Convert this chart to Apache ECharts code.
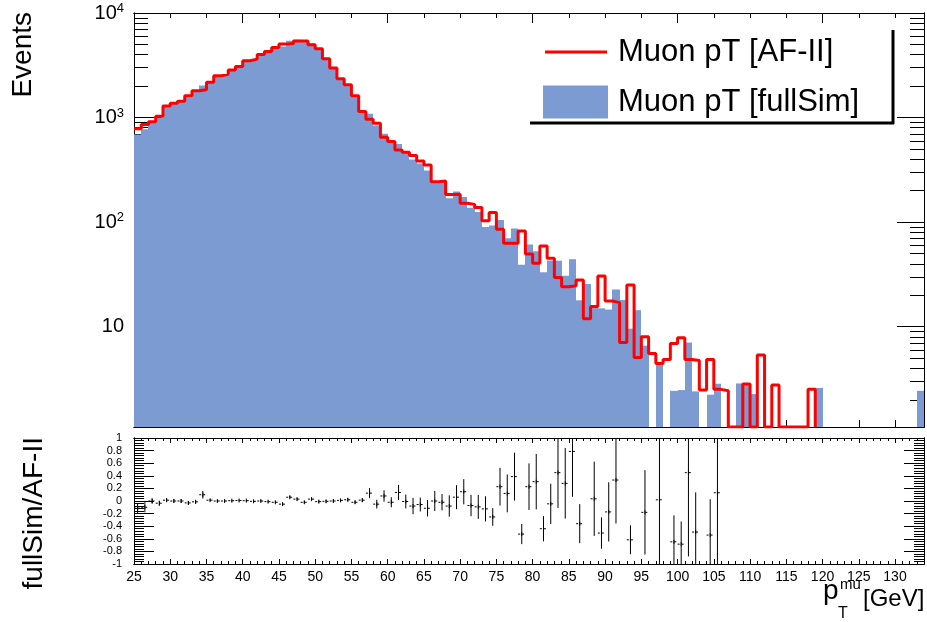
<!DOCTYPE html>
<html><head><meta charset="utf-8">
<script src="https://cdn.jsdelivr.net/npm/echarts@6/dist/echarts.min.js"></script>
<style>html,body{margin:0;padding:0;background:#fff}#c{width:927px;height:622px}</style>
</head><body><div id="c"></div>
<script>
// ---- data (bin lower edges, GeV) ----
const bins = [25,26,27,28,29,30,31,32,33,34,35,36,37,38,39,40,41,42,43,44,45,46,47,48,49,50,51,52,53,54,55,56,57,58,59,60,61,62,63,64,65,66,67,68,69,70,71,72,73,74,75,76,77,78,79,80,81,82,83,84,85,86,87,88,89,90,91,92,93,94,95,96,97,98,99,100,101,102,103,104,105,106,107,108,109,110,111,112,113,114,115,116,117,118,119,120,121,122,123,124,125,126,127,128,129,130,131,132,133];
const binWidth = 1;
// Muon pT [AF-II]
const afII = [780,857,910,1031,1294,1374,1436,1615,1803,1842,
  2180,2506,2601,2857,3074,3489,3624,4010,4285,4680,
  5040,5110,5385,5385,4966,4550,3650,2972,2345,2055,
  1615,1143,965,883,649,590,491,466,433,385,
  353,244,248,184,185,152,148,138,103,124,
  85.5,62.8,62.8,82.4,49.7,40.4,59.2,45.1,29.5,24.1,
  24.7,28.0,11.9,15.6,30.5,17.6,17.0,7.08,25.1,5.09,
  8.03,5.56,4.46,4.87,6.93,7.86,4.87,4.76,2.48,4.87,
  2.52,2.44,0,0,2.83,0,5.36,0,2.77,0,
  0,0,0,2.52,null,null,null,null,null,null,
  null,null,null,null,null,null,null,null,null];
// Muon pT [fullSim]
const fullSim = [690,772,910,995,1311,1374,1436,1567,1780,2024,
  2208,2506,2601,2871,3099,3506,3606,4010,4242,4586,
  4788,5417,5547,5277,5115,4505,3632,2972,2368,2096,
  1583,1158,1086,839,701,578,558,462,398,363,
  312,244,243,169,196,174,137,125,90,93,
  105,70.3,87.1,39.1,61,52.8,33.2,43.1,42.8,30.8,
  44.1,17.9,25.6,16.1,15.0,14.6,22.7,18.0,9.6,14.4,
  6.58,0,4.54,0,2.44,2.48,7.06,2.41,0,2.24,
  2.85,0,0,2.87,2.87,2.27,0,0,0,0,
  0,0,0,0,2.6,0,0,0,0,0,
  0,0,0,0,0,0,0,0,2.44];
// fullSim/AF-II (shown as ratio - 1) and its error
const ratioVal = [-0.115,-0.099,0,-0.035,0.013,0,0,-0.03,-0.013,0.099,
  0.013,0,0,0.005,0.008,0.005,-0.005,0,-0.01,-0.02,
  -0.05,0.06,0.03,-0.02,0.03,-0.01,-0.005,0,0.01,0.02,
  -0.02,0.013,0.125,-0.05,0.08,-0.02,0.136,-0.008,-0.08,-0.056,
  -0.115,0,-0.02,-0.08,0.061,0.147,-0.072,-0.093,-0.125,-0.253,
  0.227,0.12,0.387,-0.525,0.227,0.307,-0.44,-0.045,0.45,0.28,
  0.787,-0.36,null,0.035,-0.509,-0.173,0.333,null,-0.616,null,
  -0.18,null,0.019,null,-0.648,-0.685,0.45,-0.493,null,-0.541,
  0.131,null,null,null,null,null,null,null,null,null,
  null,null,null,null,null,null,null,null,null,null,
  null,null,null,null,null,null,null,null,null];
const ratioErr = [0.085,0.08,0.045,0.04,0.03,0.03,0.03,0.03,0.03,0.06,
  0.015,0.015,0.015,0.015,0.015,0.015,0.015,0.015,0.015,0.015,
  0.02,0.02,0.02,0.02,0.02,0.02,0.02,0.02,0.02,0.025,
  0.025,0.03,0.08,0.07,0.09,0.08,0.12,0.11,0.13,0.11,
  0.13,0.16,0.13,0.17,0.19,0.2,0.17,0.19,0.2,0.14,
  0.3,0.3,0.38,0.16,0.37,0.44,0.2,0.32,0.56,0.56,
  0.72,0.31,null,0.59,0.25,0.47,0.69,null,0.23,null,
  0.67,null,1.2,null,0.42,0.36,1.33,0.63,null,0.57,
  1.5,null,null,null,null,null,null,null,null,null,
  null,null,null,null,null,null,null,null,null,null,
  null,null,null,null,null,null,null,null,null];
// tick values
const xFives = [25,30,35,40,45,50,55,60,65,70,75,80,85,90,95,100,105,110,115,120,125,130];
const xTwenties = [40,60,80,100,120];
const yMajor = [10,100,1000,10000];
const yMinor = [2,3,4,5,6,7,8,9,20,30,40,50,60,70,80,90,200,300,400,500,600,700,800,900,2000,3000,4000,5000,6000,7000,8000,9000];
const X_MIN = 25, X_MAX = 134, Y_MIN = 1.1, Y_MAX = 10000;

const RED = '#ff0000', BLUE = '#7b9bd2';
const FONT = 'Liberation Sans, Arial, Helvetica, sans-serif';

const chart = echarts.init(document.getElementById('c'), null, {renderer: 'canvas'});

const blueData = [];
bins.forEach((b, i) => { if (fullSim[i] > 0) blueData.push([b, fullSim[i]]); });
const redData = [];
let lastBin = null, lastVal = null;
bins.forEach((b, i) => {
  if (afII[i] === null) return;
  const v = afII[i] > 0 ? afII[i] : Y_MIN;
  redData.push([b, v]); lastBin = b; lastVal = v;
});
redData.push([lastBin + binWidth, lastVal]);
redData.push([lastBin + binWidth, Y_MIN]);
const ratioData = [];
bins.forEach((b, i) => { if (ratioVal[i] !== null) ratioData.push([b, ratioVal[i], ratioErr[i]]); });

function xAx(grid, pos, opts) {
  return Object.assign({
    type: 'value', gridIndex: grid, position: pos, min: X_MIN, max: X_MAX,
    axisLine: {show: true, onZero: false, lineStyle: {color: '#000', width: 1}},
    splitLine: {show: false}, axisLabel: {show: false},
    axisTick: {show: true, inside: true, length: 5, lineStyle: {color: '#000'}}
  }, opts);
}
function yLog(pos, ticks, len, labels) {
  return {
    type: 'log', gridIndex: 0, position: pos, min: Y_MIN, max: Y_MAX, logBase: 10,
    axisLine: {show: true, lineStyle: {color: '#000'}},
    splitLine: {show: false},
    axisTick: {show: true, inside: true, length: len, customValues: ticks, lineStyle: {color: '#000'}},
    axisLabel: labels ? {
      show: true, customValues: yMajor, margin: 10, color: '#000', fontFamily: FONT,
      formatter: v => { const e = Math.round(Math.log10(v)); return e === 1 ? '{b|10}' : '{b|10}{s|' + e + '}'; },
      rich: {b: {fontSize: 20, fontFamily: FONT, color: '#000', lineHeight: 22},
             s: {fontSize: 13, fontFamily: FONT, color: '#000', lineHeight: 13, verticalAlign: 'top'}}
    } : {show: false}
  };
}
function yRatio(pos, interval, len, labels) {
  return {
    type: 'value', gridIndex: 1, position: pos, min: -1, max: 1, interval: interval,
    axisLine: {show: true, lineStyle: {color: '#000'}},
    splitLine: {show: false},
    axisTick: {show: true, inside: true, length: len, lineStyle: {color: '#000'}},
    axisLabel: labels ? {show: true, margin: 12, fontSize: 11, color: '#000', fontFamily: FONT} : {show: false}
  };
}

const option = {
  animation: false,
  backgroundColor: '#fff',
  grid: [
    {left: 134, top: 13, width: 790, height: 414, show: false},
    {left: 134, top: 438, width: 790, height: 126, show: false}
  ],
  xAxis: [
    xAx(0, 'bottom', {axisTick: {show: true, inside: true, length: 7, customValues: xFives, lineStyle: {color: '#000'}}}),
    xAx(0, 'bottom', {axisTick: {show: true, inside: true, length: 12, customValues: xTwenties, lineStyle: {color: '#000'}}}),
    xAx(0, 'top', {axisTick: {show: true, inside: true, length: 5, customValues: xFives, lineStyle: {color: '#000'}}}),
    xAx(0, 'top', {axisTick: {show: true, inside: true, length: 10, customValues: xTwenties, lineStyle: {color: '#000'}}}),
    xAx(1, 'bottom', {interval: 1, axisTick: {show: true, inside: true, length: 3, lineStyle: {color: '#000'}},
      axisLabel: {show: true, customValues: xFives, fontSize: 14, margin: 6, color: '#000', fontFamily: FONT}}),
    xAx(1, 'bottom', {axisTick: {show: true, inside: true, length: 5, customValues: xFives, lineStyle: {color: '#000'}}}),
    xAx(1, 'top', {interval: 1, axisTick: {show: true, inside: true, length: 3, lineStyle: {color: '#000'}}}),
    xAx(1, 'top', {axisTick: {show: true, inside: true, length: 5, customValues: xFives, lineStyle: {color: '#000'}}})
  ],
  yAxis: [
    yLog('left', yMajor, 27, true),
    yLog('left', yMinor, 14, false),
    yLog('right', yMajor, 27, false),
    yLog('right', yMinor, 14, false),
    yRatio('left', 0.2, 20, true),
    yRatio('left', 0.04, 10, false),
    yRatio('right', 0.2, 20, false),
    yRatio('right', 0.04, 10, false)
  ],
  legend: [
    {data: ['Muon pT [AF-II]'], left: 540, top: 29, icon: 'rect', itemWidth: 62, itemHeight: 3,
     selectedMode: false, textStyle: {fontSize: 31, fontFamily: FONT, color: '#000', lineHeight: 36, padding: [0, 0, 0, 6]}},
    {data: ['Muon pT [fullSim]'], left: 538, top: 79, icon: 'rect', itemWidth: 65, itemHeight: 33,
     selectedMode: false, textStyle: {fontSize: 31, fontFamily: FONT, color: '#000', lineHeight: 36, padding: [0, 0, 0, 5]}}
  ],
  series: [
    {
      name: 'Muon pT [fullSim]', type: 'custom', xAxisIndex: 0, yAxisIndex: 0, clip: true,
      itemStyle: {color: BLUE}, z: 2,
      renderItem: (params, api) => {
        const b = api.value(0), v = api.value(1);
        const p0 = api.coord([b, Y_MIN]), p1 = api.coord([b + binWidth, v]);
        const xa = Math.round(p0[0]), xb = Math.round(p1[0]);
        return {type: 'rect', shape: {x: xa, y: p1[1], width: xb - xa, height: p0[1] - p1[1]},
                style: {fill: BLUE}};
      },
      data: blueData
    },
    {
      name: 'Muon pT [AF-II]', type: 'line', step: 'end', xAxisIndex: 0, yAxisIndex: 0,
      showSymbol: false, symbol: 'none', z: 3,
      itemStyle: {color: RED}, lineStyle: {color: RED, width: 3},
      data: redData
    },
    {
      name: 'ratio', type: 'custom', xAxisIndex: 4, yAxisIndex: 4, clip: true, z: 3,
      renderItem: (params, api) => {
        const b = api.value(0), r = api.value(1), e = api.value(2);
        const l = api.coord([b, r]), rr = api.coord([b + binWidth, r]);
        const m = api.coord([b + binWidth / 2, r]);
        const t = api.coord([b + binWidth / 2, r + e]), d = api.coord([b + binWidth / 2, r - e]);
        return {type: 'group', children: [
          {type: 'line', shape: {x1: l[0], y1: l[1], x2: rr[0], y2: rr[1]}, style: {stroke: '#000', lineWidth: 1, lineDash: [2, 2]}},
          {type: 'line', shape: {x1: m[0], y1: t[1], x2: m[0], y2: d[1]}, style: {stroke: '#000', lineWidth: 1}},
          {type: 'line', shape: {x1: m[0], y1: m[1] - 2, x2: m[0], y2: m[1] + 2}, style: {stroke: '#000', lineWidth: 1}}
        ]};
      },
      data: ratioData
    }
  ],
  graphic: [
    {type: 'text', x: 23, y: 12, rotation: Math.PI / 2,
     style: {text: 'Events', fontSize: 28, fontFamily: FONT, fill: '#000', textAlign: 'right', textVerticalAlign: 'middle'}},
    {type: 'text', x: 34, y: 437, rotation: Math.PI / 2,
     style: {text: 'fullSim/AF-II', fontSize: 28, fontFamily: FONT, fill: '#000', textAlign: 'right', textVerticalAlign: 'middle'}},
    {type: 'text', x: 823, y: 605, style: {text: 'p', fontSize: 28, fontFamily: FONT, fill: '#000', textAlign: 'left', textVerticalAlign: 'bottom'}},
    {type: 'text', x: 840, y: 592, style: {text: 'mu', fontSize: 15, fontFamily: FONT, fill: '#000', textAlign: 'left', textVerticalAlign: 'bottom'}},
    {type: 'text', x: 838, y: 622, style: {text: 'T', fontSize: 16, fontFamily: FONT, fill: '#000', textAlign: 'left', textVerticalAlign: 'bottom'}},
    {type: 'text', x: 863, y: 611, style: {text: '[GeV]', fontSize: 24, fontFamily: FONT, fill: '#000', textAlign: 'left', textVerticalAlign: 'bottom'}},
    {type: 'line', shape: {x1: 530, y1: 123, x2: 894, y2: 123}, style: {stroke: '#000', lineWidth: 3}},
    {type: 'line', shape: {x1: 893, y1: 30, x2: 893, y2: 124}, style: {stroke: '#000', lineWidth: 3}}
  ]
};
chart.setOption(option);
</script></body></html>
